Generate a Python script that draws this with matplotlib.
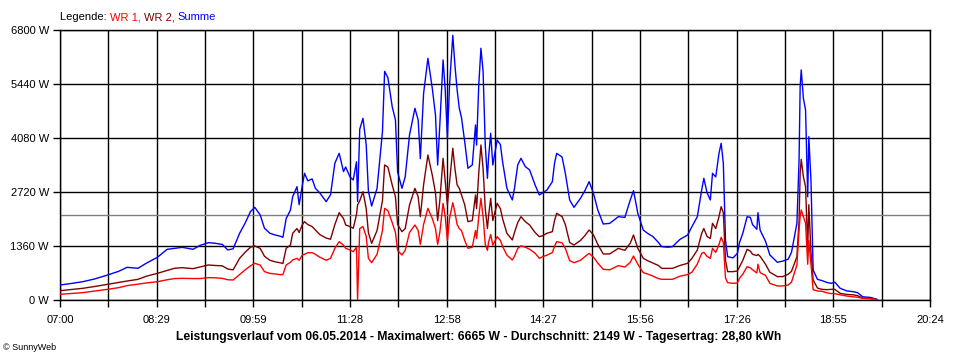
import numpy as np
import matplotlib
matplotlib.use("Agg")
import matplotlib.pyplot as plt

plt.rcParams['font.family'] = ['Liberation Sans', 'DejaVu Sans']

# minutes after 07:00
t_min = [0, 9, 21, 32, 44, 54, 62, 72, 80, 90, 99, 106, 113, 123, 129, 137, 143, 150, 155, 160,
         166, 171, 176, 180, 185, 189, 194, 199, 203, 206, 209, 213, 215, 219, 221, 224, 226, 229, 233, 236,
         240, 246, 250, 254, 258, 262, 264, 268, 271, 274, 275, 277, 280, 283, 285, 288, 293, 298, 300, 303,
         307, 310, 312, 316, 319, 323, 328, 331, 333, 336, 340, 344, 347, 349, 351, 354, 356, 358, 360, 363,
         365, 367, 369, 371, 374, 377, 381, 384, 385, 387, 389, 391, 393, 395, 396, 398, 400, 404, 407, 409,
         413, 418, 420, 423, 426, 430, 434, 439, 443, 446, 450, 455, 457, 459, 464, 467, 471, 475, 481, 485,
         489, 493, 497, 502, 508, 516, 522, 527, 530, 534, 539, 543, 548, 553, 556, 562, 566, 573, 580, 584,
         589, 593, 595, 598, 601, 603, 606, 609, 611, 613, 615, 617, 622, 626, 628, 631, 635, 638, 640, 644,
         645, 647, 652, 656, 663, 668, 673, 676, 681, 683, 684, 685, 687, 689, 691, 692, 694, 696, 700, 704,
         709, 713, 716, 721, 727, 733, 737, 742, 749, 755]

summe = [378, 410, 461, 530, 630, 720, 823, 798, 930, 1075, 1276, 1300, 1326, 1276, 1370, 1444, 1430, 1400, 1260, 1290,
         1680, 1932, 2225, 2334, 2141, 1805, 1680, 1636, 1610, 1580, 2050, 2267, 2600, 2854, 2400, 2896, 3191, 3000, 3050, 2812,
         2700, 2477, 2650, 3443, 3695, 3233, 3350, 3099, 3023, 3480, 2480, 4300, 4576, 3900, 2745, 2367, 2812, 4240, 5760, 5600,
         4870, 4534, 3224, 2812, 3100, 4156, 4828, 4534, 3560, 5200, 6087, 5340, 4660, 3400, 4408, 6046, 5300, 4072, 5416, 6665,
         5900, 5290, 4828, 4600, 3988, 3317, 3400, 4408, 3900, 5416, 6340, 5760, 3900, 3065, 3570, 4198, 3400, 4030, 3912, 3486,
         2812, 2519, 2812, 3401, 3569, 3360, 3275, 2900, 2645, 2700, 2770, 2980, 3443, 3694, 3600, 3191, 2519, 2334, 2561, 2750,
         2980, 2687, 2267, 1914, 1930, 2099, 2080, 2519, 2754, 2183, 1763, 1680, 1595, 1450, 1344, 1330, 1344, 1528, 1637, 1848,
         2099, 2771, 3065, 2700, 2519, 3191, 3100, 3695, 3947, 3450, 1511, 1092, 1060, 1175, 1450, 1679, 2099, 2080, 1900, 1780,
         2200, 1760, 1480, 1134, 949, 980, 1030, 1200, 1931, 3527, 5374, 5794, 5080, 4786, 2600, 4114, 3000, 756, 520, 490,
         440, 420, 450, 294, 230, 210, 185, 80, 65, 17]

wr2 = [235, 260, 294, 340, 395, 440, 478, 520, 600, 672, 745, 800, 814, 789, 830, 882, 870, 860, 780, 760,
       1050, 1200, 1330, 1360, 1300, 1100, 1000, 960, 940, 920, 1302, 1385, 1680, 1800, 1700, 1900, 1973, 1900, 1850, 1763,
       1650, 1560, 1530, 1900, 2200, 2050, 1890, 1850, 1805, 2150, 2393, 2500, 2728, 2300, 1700, 1427, 1750, 2500, 3401, 3350,
       2897, 2600, 1900, 1720, 1800, 2393, 2812, 2600, 2100, 2900, 3653, 3149, 2700, 2000, 2500, 3569, 3000, 2400, 2980, 3821,
       3300, 2900, 2812, 2650, 2400, 1973, 2000, 2645, 2300, 3200, 3905, 3300, 2300, 1800, 2100, 2561, 2000, 2435, 2300, 2050,
       1680, 1511, 1700, 1950, 2099, 1973, 1889, 1700, 1595, 1620, 1680, 1721, 2000, 2183, 2100, 1900, 1450, 1385, 1500, 1620,
       1763, 1640, 1400, 1159, 1160, 1301, 1250, 1430, 1637, 1300, 1050, 990, 930, 870, 797, 797, 797, 870, 924, 1050,
       1260, 1679, 1800, 1600, 1550, 1931, 1800, 2100, 2351, 2200, 1008, 714, 714, 730, 840, 1000, 1276, 1230, 1150, 1120,
       1150, 1100, 900, 700, 588, 590, 650, 720, 1092, 2000, 3200, 3543, 3106, 2854, 1300, 2400, 1200, 504, 300, 269,
       260, 269, 269, 168, 140, 130, 110, 50, 40, 10]

wr1 = [143, 160, 185, 225, 269, 310, 361, 400, 430, 461, 510, 540, 546, 540, 540, 562, 560, 545, 510, 504,
       640, 756, 860, 923, 880, 714, 670, 655, 640, 640, 882, 950, 1008, 1050, 1000, 1134, 1150, 1190, 1193, 1150,
       1080, 1000, 1050, 1300, 1470, 1380, 1302, 1260, 1217, 1330, 0, 1800, 1850, 1600, 1050, 940, 1150, 1750, 2309, 2250,
       1950, 1700, 1250, 1133, 1250, 1700, 1890, 1750, 1400, 1900, 2309, 2057, 1800, 1400, 1700, 2435, 2100, 1500, 2057, 2450,
       2200, 1900, 1800, 1750, 1500, 1302, 1330, 1750, 1550, 2100, 2561, 2100, 1400, 1250, 1450, 1650, 1380, 1595, 1500, 1350,
       1130, 1008, 1100, 1300, 1363, 1330, 1280, 1180, 1050, 1090, 1130, 1193, 1350, 1469, 1440, 1300, 990, 940, 1000, 1090,
       1175, 1080, 930, 773, 760, 865, 830, 950, 1108, 900, 690, 655, 600, 540, 521, 521, 521, 600, 640, 700,
       907, 1175, 1200, 1100, 1050, 1301, 1200, 1400, 1578, 1450, 560, 437, 420, 430, 550, 650, 840, 810, 760, 680,
       900, 690, 620, 420, 353, 353, 380, 450, 882, 1763, 2100, 2267, 2100, 1931, 900, 1500, 900, 260, 227, 220,
       180, 160, 160, 130, 100, 80, 70, 40, 30, 8]

x_labels = ['07:00', '08:29', '09:59', '11:28', '12:58', '14:27', '15:56', '17:26', '18:55', '20:24']
y_ticks = [0, 1360, 2720, 4080, 5440, 6800]
durchschnitt = 2149
total_span = 804  # minutes from 07:00 to 20:24

fig = plt.figure(figsize=(9.6, 3.6), dpi=100)
ax = fig.add_axes([60 / 960, 60 / 360, 870 / 960, 270 / 360])

ax.set_xlim(0, total_span)
ax.set_ylim(0, 6800)

# grid: one line per tick, labels only on every other x tick
x_grid = np.linspace(0, total_span, 19)
ax.set_xticks(x_grid)
ax.set_xticklabels([x_labels[k // 2] if k % 2 == 0 else '' for k in range(19)])
ax.set_yticks(y_ticks)
ax.set_yticklabels([f'{v} W' for v in y_ticks])
ax.grid(True, color='black', linewidth=1)
ax.set_axisbelow(True)
for s in ax.spines.values():
    s.set_color('black')
    s.set_linewidth(1)
ax.tick_params(axis='both', length=5, width=1, labelsize=8, colors='black')
ax.tick_params(axis='x', pad=6)
ax.tick_params(axis='y', pad=3)

# average line
ax.axhline(durchschnitt, color='#808080', linewidth=1, zorder=2)

ax.plot(t_min, summe, color='#0000ff', linewidth=1, zorder=3)
ax.plot(t_min, wr2, color='#800000', linewidth=1, zorder=4)
ax.plot(t_min, wr1, color='#ff0000', linewidth=1, zorder=5)

# legend line on top, built piece by piece
renderer = fig.canvas.get_renderer()
x_pos = 60 / 960
for txt, col in [('Legende: ', 'black'), ('WR 1, ', '#ff0000'), ('WR 2, ', '#800000'), ('Summe', '#0000ff')]:
    t = fig.text(x_pos, 1 - 17 / 360, txt, color=col, fontsize=8, ha='left', va='center')
    bb = t.get_window_extent(renderer=renderer)
    x_pos += bb.width / fig.bbox.width

fig.text(479 / 960, 1 - 337 / 360,
         'Leistungsverlauf vom 06.05.2014 - Maximalwert: 6665 W - Durchschnitt: 2149 W - Tagesertrag: 28,80 kWh',
         fontsize=8.7, fontweight='bold', ha='center', va='center')
fig.text(3 / 960, 1 - 348 / 360, '© SunnyWeb', fontsize=6.5, ha='left', va='center')

fig.savefig('out.png', dpi=100, facecolor='white')
